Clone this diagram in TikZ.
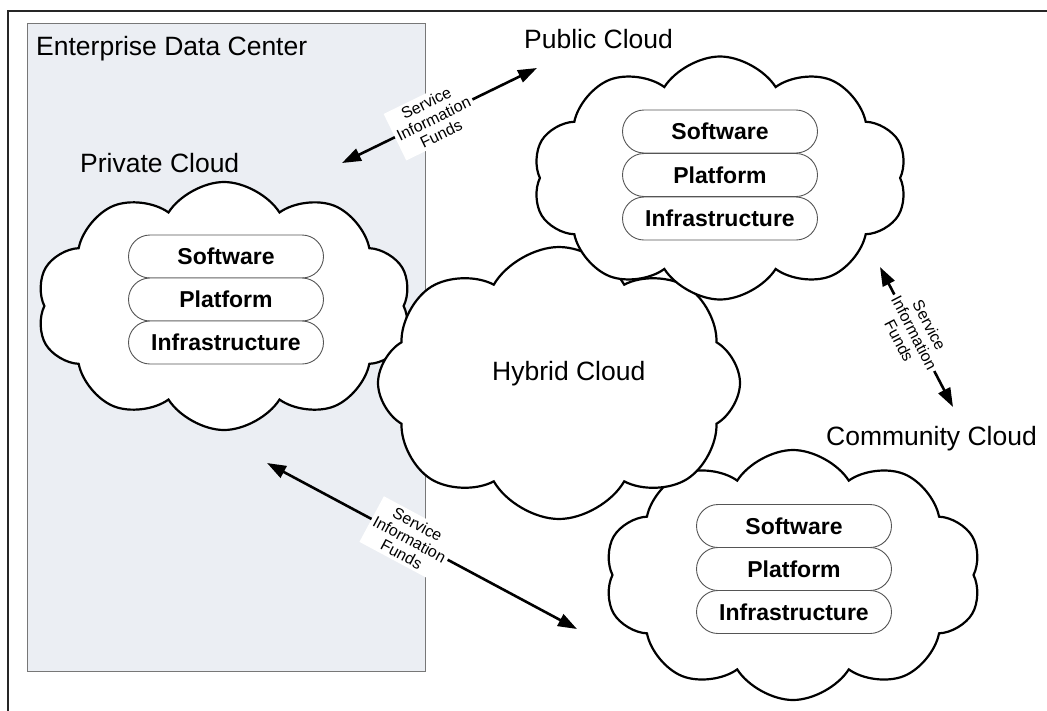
\documentclass[tikz,border=0pt]{standalone}
\usepackage{fontspec}
\setmainfont{Liberation Sans}
\usetikzlibrary{shapes.symbols,shapes.misc,arrows.meta}
\definecolor{edcfill}{HTML}{EBEEF3}
\definecolor{edcline}{HTML}{777777}
\definecolor{pillline}{HTML}{555555}
\begin{document}
\begin{tikzpicture}[x=1pt,y=-1pt,
  cloudshape/.style={cloud, cloud puffs=10, cloud puff arc=115, cloud ignores aspect, draw=black, line width=2.2pt, fill=white, inner sep=0pt},
  pill/.style={rounded rectangle, draw=pillline, line width=0.9pt, fill=white, minimum width=195pt, minimum height=43pt, inner sep=0pt, font=\fontsize{23}{26}\selectfont\bfseries},
  biglabel/.style={font=\fontsize{26.5}{30}\selectfont, inner sep=0pt, anchor=base west},
  flow/.style={{Triangle[length=19pt,width=13pt]}-{Triangle[length=19pt,width=13pt]}, line width=2.6pt},
  flowlabel/.style={fill=white, align=center, inner sep=3pt, font=\fontsize{16}{17}\selectfont, sloped}
]
\useasboundingbox (0,0) rectangle (1047,710);
\fill[white] (0,0) rectangle (1047,710);
\draw[line width=2pt, draw=black!85] (8,715) -- (8,11) -- (1052,11);

% enterprise data center
\node[draw=edcline, fill=edcfill, line width=1.3pt, minimum width=398pt, minimum height=648pt, anchor=north west, inner sep=0pt] (edc) at (27,23) {};

% clouds
\node[cloudshape, minimum width=375pt, minimum height=248pt] (private) at (224,306) {};
\node[cloudshape, minimum width=377pt, minimum height=250pt] (community) at (793,575) {};
\node[cloudshape, cloud puffs=8, cloud puff arc=120, minimum width=362pt, minimum height=272pt] (hybrid) at (559,383) {};
\node[cloudshape, minimum width=375pt, minimum height=243pt] (public) at (720,178) {};

% labels
\node[biglabel] (edclbl) at (36,55) {Enterprise Data Center};
\node[biglabel] (privlbl) at (80,172) {Private Cloud};
\node[biglabel] (publbl) at (524,48) {Public Cloud};
\node[biglabel] (commlbl) at (826,445) {Community Cloud};
\node[biglabel] (hyblbl) at (492,380) {Hybrid Cloud};

% stacks
\node[pill] (psw) at (226,256.5) {Software};
\node[pill] (ppf) at (226,299.5) {Platform};
\node[pill] (pin) at (226,342.5) {Infrastructure};

\node[pill] (usw) at (720,131.5) {Software};
\node[pill] (upf) at (720,175) {Platform};
\node[pill] (uin) at (720,218.5) {Infrastructure};

\node[pill] (csw) at (794,526) {Software};
\node[pill] (cpf) at (794,569) {Platform};
\node[pill] (cin) at (794,612) {Infrastructure};

% flows
\coordinate (a1s) at (342,163);
\coordinate (a1e) at (537,68);
\coordinate (a2s) at (880,267);
\coordinate (a2e) at (953,407);
\coordinate (a3s) at (267,463);
\coordinate (a3e) at (577,629);

\draw[flow] (a1s) -- node[flowlabel, pos=0.47] (f1) {Service\\Information\\Funds} (a1e);
\draw[flow] (a2s) -- node[flowlabel, pos=0.47] (f2) {Service\\Information\\Funds} (a2e);
\draw[flow] (a3s) -- node[flowlabel, pos=0.46] (f3) {Service\\Information\\Funds} (a3e);
\end{tikzpicture}
\end{document}
